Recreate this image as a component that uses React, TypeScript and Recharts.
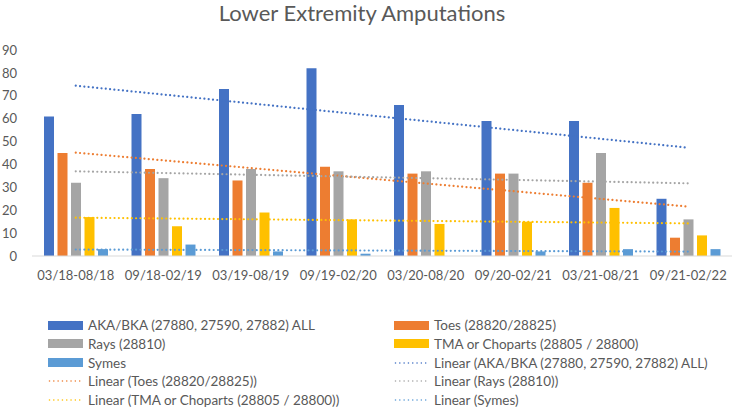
import React from 'react';
import { ComposedChart, Bar, Line, XAxis, YAxis } from 'recharts';

const categories = [
  '03/18-08/18',
  '09/18-02/19',
  '03/19-08/19',
  '09/19-02/20',
  '03/20-08/20',
  '09/20-02/21',
  '03/21-08/21',
  '09/21-02/22',
];
const akaBka = [61, 62, 73, 82, 66, 59, 59, 25];
const toes = [45, 38, 33, 39, 36, 36, 32, 8];
const rays = [32, 34, 38, 37, 37, 36, 45, 16];
const tma = [17, 13, 19, 16, 14, 15, 21, 9];
const symes = [3, 5, 2, 1, 0, 2, 3, 3];
const yTicks = [0, 10, 20, 30, 40, 50, 60, 70, 80, 90];

// least-squares linear trend (as Excel's "Linear" trendline)
function linearTrend(values: number[]): number[] {
  const n = values.length;
  const xs = values.map((_, i) => i + 1);
  const mx = xs.reduce((a, b) => a + b, 0) / n;
  const my = values.reduce((a, b) => a + b, 0) / n;
  let sxy = 0;
  let sxx = 0;
  for (let i = 0; i < n; i++) {
    sxy += (xs[i] - mx) * (values[i] - my);
    sxx += (xs[i] - mx) * (xs[i] - mx);
  }
  const slope = sxy / sxx;
  return xs.map((x) => my + slope * (x - mx));
}

const series = [
  { key: 'aka', name: 'AKA/BKA (27880, 27590, 27882) ALL', values: akaBka, color: '#4472C4' },
  { key: 'toes', name: 'Toes (28820/28825)', values: toes, color: '#ED7D31' },
  { key: 'rays', name: 'Rays (28810)', values: rays, color: '#A5A5A5' },
  { key: 'tma', name: 'TMA or Choparts (28805 / 28800)', values: tma, color: '#FFC000' },
  { key: 'symes', name: 'Symes', values: symes, color: '#5B9BD5' },
];

const trends = series.map((s) => linearTrend(s.values));

const data = categories.map((c, i) => {
  const row: Record<string, any> = { name: c };
  series.forEach((s, k) => {
    row[s.key] = s.values[i];
    row[s.key + 'T'] = trends[k][i];
  });
  return row;
});

type LegendItem = { label: string; color: string; kind: 'bar' | 'line' };
const legendItems: LegendItem[] = [
  ...series.map((s) => ({ label: s.name, color: s.color, kind: 'bar' as const })),
  ...series.map((s) => ({ label: `Linear (${s.name})`, color: s.color, kind: 'line' as const })),
];

const FONT = 'Lato, "Noto Sans", sans-serif';
const TEXT = '#595959';

export default function App() {
  return (
    <div
      style={{
        position: 'absolute',
        left: 0,
        top: 0,
        width: 735,
        height: 410,
        background: '#fff',
        fontFamily: FONT,
        overflow: 'hidden',
      }}
    >
      <div
        style={{
          position: 'absolute',
          left: 0,
          top: 1,
          width: 724,
          textAlign: 'center',
          fontSize: 22,
          lineHeight: '24px',
          color: TEXT,
        }}
      >
        Lower Extremity Amputations
      </div>
      <div style={{ position: 'absolute', left: 0, top: 0 }}>
        <ComposedChart
          width={735}
          height={290}
          data={data}
          margin={{ top: 50, right: 3, left: 0, bottom: 4 }}
          barGap={3.5}
        >
          <XAxis
            dataKey="name"
            height={30}
            tickLine={false}
            tickSize={0}
            tickMargin={15}
            axisLine={{ stroke: '#d9d9d9', strokeWidth: 1 }}
            tick={{ fill: TEXT, fontSize: 13, fontFamily: FONT }}
            interval={0}
          />
          <YAxis
            width={32}
            domain={[0, 90]}
            ticks={yTicks}
            tickLine={false}
            tickSize={0}
            tickMargin={15}
            axisLine={false}
            tick={{ fill: TEXT, fontSize: 13, fontFamily: FONT }}
            interval={0}
          />
          {series.map((s) => (
            <Bar
              key={s.key}
              dataKey={s.key}
              name={s.name}
              fill={s.color}
              barSize={10}
              isAnimationActive={false}
            />
          ))}
          {series.map((s) => (
            <Line
              key={s.key + 'T'}
              dataKey={s.key + 'T'}
              type="linear"
              stroke={s.color}
              strokeWidth={2.2}
              strokeDasharray="0.01 4.3"
              strokeLinecap="round"
              dot={false}
              activeDot={false}
              legendType="none"
              isAnimationActive={false}
            />
          ))}
        </ComposedChart>
      </div>
      {legendItems.map((item, i) => {
        const col = i % 2;
        const row = Math.floor(i / 2);
        const left = col === 0 ? 48 : 394;
        const cy = 325 + row * 18.8;
        return (
          <div
            key={item.label}
            style={{
              position: 'absolute',
              left,
              top: cy - 10,
              height: 20,
              display: 'flex',
              alignItems: 'center',
              whiteSpace: 'nowrap',
              fontSize: 13.5,
              color: TEXT,
            }}
          >
            {item.kind === 'bar' ? (
              <div style={{ width: 35, height: 9, background: item.color }} />
            ) : (
              <svg width={35} height={10} style={{ display: 'block' }}>
                <line
                  x1={1.5}
                  y1={5}
                  x2={34}
                  y2={5}
                  stroke={item.color}
                  strokeWidth={1.6}
                  strokeDasharray="0.01 4.3"
                  strokeLinecap="round"
                />
              </svg>
            )}
            <span style={{ marginLeft: 5 }}>{item.label}</span>
          </div>
        );
      })}
    </div>
  );
}
